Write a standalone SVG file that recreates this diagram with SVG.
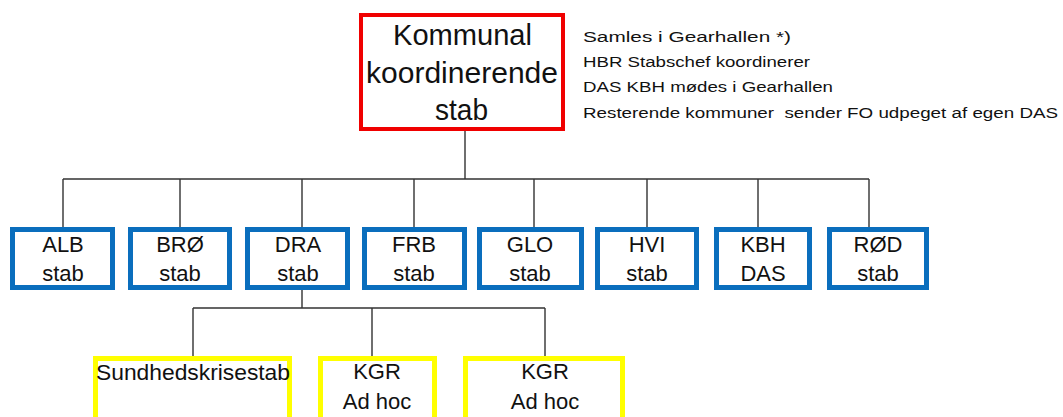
<svg xmlns="http://www.w3.org/2000/svg" width="1063" height="417" viewBox="0 0 1063 417">
<style>
text{font-family:"Liberation Sans",Arial,sans-serif;fill:#111}
.blue{fill:#fff;stroke:#0A6EBD;stroke-width:5}
.yel{fill:#fff;stroke:#FFFF00;stroke-width:5}
.red{fill:#fff;stroke:#F00000;stroke-width:4}
.b{font-size:22px;text-anchor:middle}
.r{font-size:29px}
.n{font-size:15.5px}
.c{fill:none;stroke:#333;stroke-width:1.4}
</style>
<rect width="1063" height="417" fill="#fff"/>
<g id="connectors" class="c">
<path d="M465 131V179M63 179H869M63 179V227M180 179V227M302 179V227M414 179V227M534 179V227M647 179V227M758 179V227M869 179V227"/>
<path d="M302 290V308M193 308H545M193 308V356M372 308V356M545 308V356"/>
</g>
<g id="kks">
<rect class="red" x="361" y="15" width="202" height="114"/>
<text class="r" x="393" y="45" textLength="139" lengthAdjust="spacingAndGlyphs">Kommunal</text>
<text class="r" x="366" y="83" textLength="192" lengthAdjust="spacingAndGlyphs">koordinerende</text>
<text class="r" x="435" y="120" textLength="53" lengthAdjust="spacingAndGlyphs">stab</text>
</g>
<g id="note">
<text class="n" x="583" y="42" textLength="208" lengthAdjust="spacingAndGlyphs">Samles i Gearhallen *)</text>
<text class="n" x="583" y="67" textLength="227" lengthAdjust="spacingAndGlyphs">HBR Stabschef koordinerer</text>
<text class="n" x="583" y="92" textLength="250" lengthAdjust="spacingAndGlyphs">DAS KBH mødes i Gearhallen</text>
<text class="n" x="583" y="118" textLength="475" lengthAdjust="spacingAndGlyphs" xml:space="preserve">Resterende kommuner  sender FO udpeget af egen DAS</text>
</g>
<g id="alb"><rect class="blue" x="12.5" y="229.5" width="100" height="58"/><text class="b" x="63" y="252">ALB</text><text class="b" x="63" y="281">stab</text></g>
<g id="bro"><rect class="blue" x="130.5" y="229.5" width="99" height="58"/><text class="b" x="180" y="252">BRØ</text><text class="b" x="180" y="281">stab</text></g>
<g id="dra"><rect class="blue" x="247.5" y="229.5" width="100" height="58"/><text class="b" x="298" y="252">DRA</text><text class="b" x="298" y="281">stab</text></g>
<g id="frb"><rect class="blue" x="364.5" y="229.5" width="100" height="58"/><text class="b" x="414" y="252">FRB</text><text class="b" x="414" y="281">stab</text></g>
<g id="glo"><rect class="blue" x="479.5" y="229.5" width="102" height="58"/><text class="b" x="530" y="252">GLO</text><text class="b" x="530" y="281">stab</text></g>
<g id="hvi"><rect class="blue" x="597.5" y="229.5" width="99" height="58"/><text class="b" x="647" y="252">HVI</text><text class="b" x="647" y="281">stab</text></g>
<g id="kbh"><rect class="blue" x="716.5" y="229.5" width="93" height="58"/><text class="b" x="763" y="252">KBH</text><text class="b" x="763" y="281">DAS</text></g>
<g id="rod"><rect class="blue" x="829.5" y="229.5" width="97" height="58"/><text class="b" x="878" y="252">RØD</text><text class="b" x="878" y="281">stab</text></g>
<g id="sundhed"><rect class="yel" x="95.5" y="358.5" width="194" height="62"/><text x="96" y="380" font-size="22" textLength="194" lengthAdjust="spacingAndGlyphs">Sundhedskrisestab</text></g>
<g id="kgr1"><rect class="yel" x="320.5" y="358.5" width="114" height="62"/><text class="b" x="377" y="379">KGR</text><text class="b" x="377" y="409">Ad hoc</text></g>
<g id="kgr2"><rect class="yel" x="465.5" y="358.5" width="157" height="62"/><text class="b" x="545" y="379">KGR</text><text class="b" x="545" y="409">Ad hoc</text></g>
</svg>
